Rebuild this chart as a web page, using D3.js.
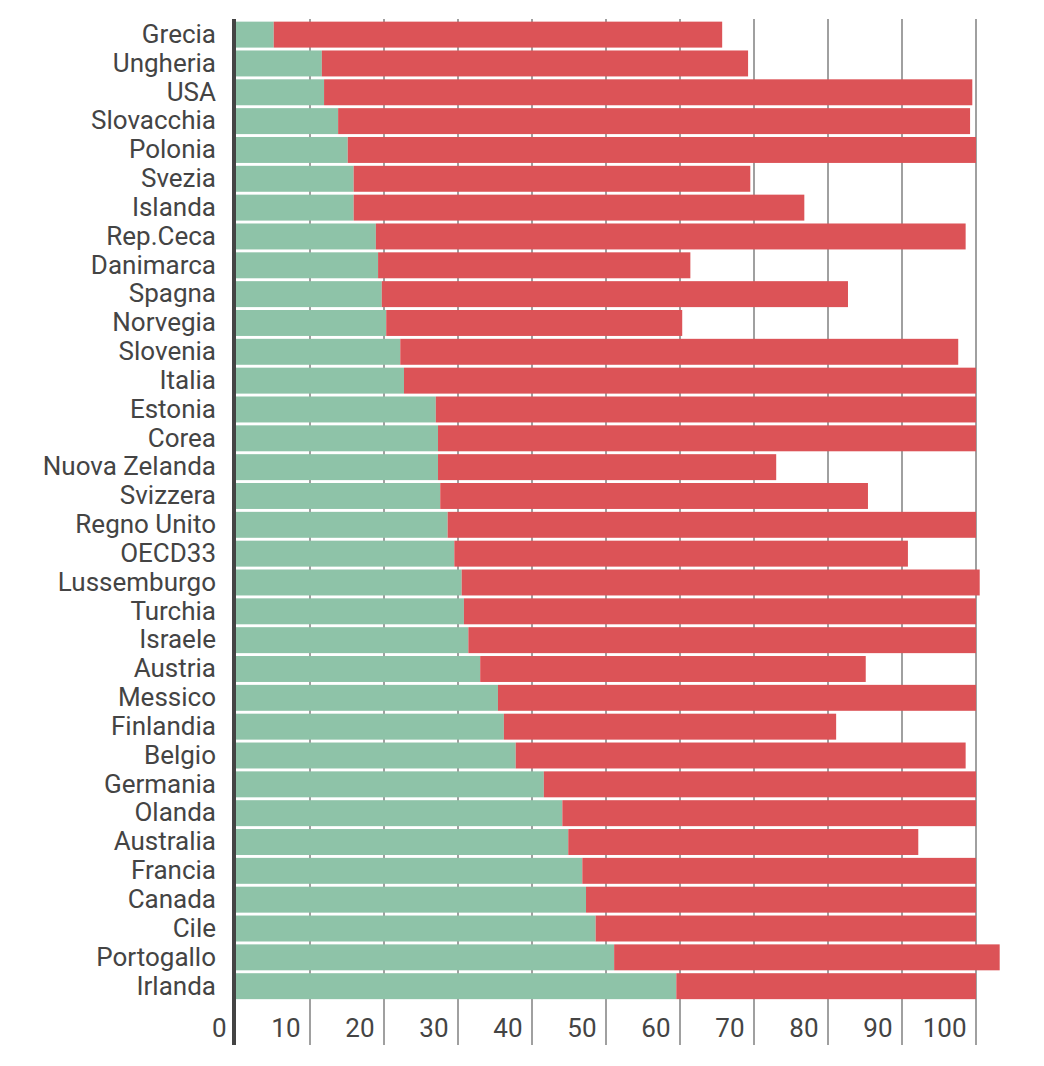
<!DOCTYPE html>
<html>
<head>
<meta charset="utf-8">
<script src="https://cdn.jsdelivr.net/npm/d3@7"></script>
<style>
  html, body { margin: 0; padding: 0; background: #fff; }
  svg { display: block; }
  text { font-family: Roboto, "Noto Sans", sans-serif; fill: #444; }
</style>
</head>
<body>
<svg id="chart" width="1044" height="1066"></svg>
<script>
const categories = ["Grecia","Ungheria","USA","Slovacchia","Polonia","Svezia","Islanda","Rep.Ceca","Danimarca","Spagna","Norvegia","Slovenia","Italia","Estonia","Corea","Nuova Zelanda","Svizzera","Regno Unito","OECD33","Lussemburgo","Turchia","Israele","Austria","Messico","Finlandia","Belgio","Germania","Olanda","Australia","Francia","Canada","Cile","Portogallo","Irlanda"];
const greenValues = [5.1,11.6,11.9,13.8,15.1,15.9,15.9,18.9,19.2,19.7,20.3,22.2,22.7,27.0,27.3,27.3,27.6,28.6,29.5,30.5,30.8,31.4,33.0,35.4,36.2,37.8,41.6,44.1,44.9,46.8,47.3,48.6,51.1,59.5];
const redValues = [60.6,57.6,87.6,85.4,84.9,53.6,60.9,79.7,42.2,63.0,40.0,75.4,77.3,73.0,72.7,45.7,57.8,71.4,61.3,70.0,69.2,68.6,52.1,64.6,44.9,60.8,58.4,55.9,47.3,53.2,52.7,51.4,52.1,40.5];
const tickValues = [0,10,20,30,40,50,60,70,80,90,100];

const colors = { green: "#8ec3a8", red: "#dc5357" };

const svg = d3.select("#chart");
const x = d3.scaleLinear().domain([0, 100]).range([236, 976]);
const y = d3.scaleBand().domain(categories).range([20.2, 1000.6]).paddingInner(0.1).paddingOuter(0.05);

const gridTop = 19, gridBottom = 1045;

// gridlines
svg.append("g").selectAll("line").data(tickValues.filter(d => d > 0)).join("line")
  .attr("x1", d => x(d)).attr("x2", d => x(d))
  .attr("y1", gridTop).attr("y2", gridBottom)
  .attr("stroke", "#a0a0a0").attr("stroke-width", 2);

// bars
const rows = categories.map((c, i) => ({ c, g: greenValues[i], r: redValues[i] }));
const bars = svg.append("g");
bars.selectAll("rect.g").data(rows).join("rect").attr("class", "g")
  .attr("x", x(0)).attr("y", d => y(d.c))
  .attr("width", d => x(d.g) - x(0)).attr("height", y.bandwidth())
  .attr("fill", colors.green);
bars.selectAll("rect.r").data(rows).join("rect").attr("class", "r")
  .attr("x", d => x(d.g)).attr("y", d => y(d.c))
  .attr("width", d => x(d.g + d.r) - x(d.g)).attr("height", y.bandwidth())
  .attr("fill", colors.red);

// zero axis line
svg.append("line")
  .attr("x1", x(0) - 2).attr("x2", x(0) - 2)
  .attr("y1", gridTop).attr("y2", gridBottom)
  .attr("stroke", "#444").attr("stroke-width", 4);

// category labels
const yAxis = d3.axisLeft(y).tickSize(0).tickPadding(20);
const gy = svg.append("g").attr("transform", `translate(${x(0)},0)`).call(yAxis);
gy.select(".domain").remove();
gy.selectAll("text").attr("font-size", 26).attr("font-family", "Roboto, sans-serif").attr("fill", "#444");

// x tick labels
const xAxis = d3.axisBottom(x).tickValues(tickValues).tickSize(0).tickFormat(d3.format("d"));
const gx = svg.append("g").attr("transform", "translate(0,1010)").call(xAxis);
gx.select(".domain").remove();
gx.selectAll("text").attr("font-size", 26).attr("font-family", "Roboto, sans-serif").attr("fill", "#444")
  .attr("text-anchor", "end").attr("dx", -10).attr("dy", 0).attr("y", 27);
</script>
</body>
</html>
